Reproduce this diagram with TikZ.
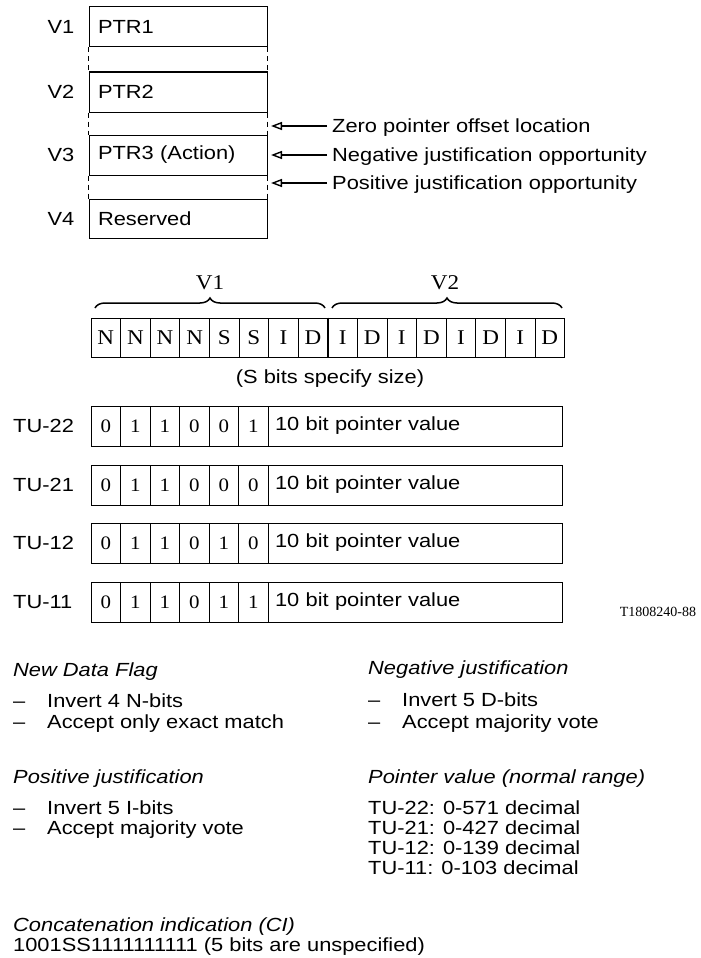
\documentclass[tikz,border=0pt]{standalone}
\usepackage{fontspec}
\setmainfont{Liberation Sans}[FakeStretch=1.15]
\newfontfamily\serfont{Liberation Serif}[FakeStretch=1.1]
\newfontfamily\tagfont{Liberation Serif}
\usetikzlibrary{arrows.meta,decorations.pathreplacing}
\tikzset{
  txt/.style={font=\fontsize{19}{21}\selectfont, inner sep=0pt, text height=13.5pt, text depth=0pt},
  ltxt/.style={txt, anchor=west},
  itxt/.style={ltxt, font=\fontsize{19}{21}\selectfont\itshape},
  ptrbox/.style={draw, line width=1pt, minimum width=178pt, minimum height=40pt,
    text width=160pt, align=left, inner xsep=9pt, inner ysep=0pt, font=\fontsize{19}{21}\selectfont},
  bitcell/.style={draw, line width=0.9pt, minimum width=29.6pt, minimum height=39pt,
    inner sep=0pt, font=\serfont\fontsize{21}{23}\selectfont},
  tubit/.style={draw, line width=0.9pt, minimum width=29.5pt, minimum height=40pt,
    inner sep=0pt, font=\serfont\fontsize{19}{21}\selectfont},
  valbox/.style={draw, line width=1pt, minimum width=294pt, minimum height=40pt,
    text width=280pt, align=left, inner xsep=7pt, inner ysep=0pt, font=\fontsize{19}{21}\selectfont},
  gap/.style={dashed, dash pattern=on 5pt off 4pt, line width=1pt},
  arr/.style={line width=1.1pt, -{Triangle[open,length=11pt,width=8pt,line width=1.4pt]}},
  bracedec/.style={line width=1.5pt, decorate, decoration={brace, amplitude=10pt}},
  serlab/.style={font=\serfont\fontsize{21}{23}\selectfont, inner sep=0pt}
}
\begin{document}
\begin{tikzpicture}[x=1pt,y=-1pt]
\useasboundingbox (0,0) rectangle (701,958);

% ---- top: pointer locations
\node[txt] (l1) at (61,27) {V1};
\node[txt] (l2) at (61,92) {V2};
\node[txt] (l3) at (61,155) {V3};
\node[txt] (l4) at (61,218.5) {V4};
\node[ptrbox] (p1) at (178,27) {PTR1};
\node[ptrbox] (p2) at (178,92) {PTR2};
\node[ptrbox] (p3) at (178,155) {PTR3 (Action)};
\node[ptrbox, minimum height=39pt] (p4) at (178,218.5) {Reserved};
\draw[gap] (p1.south west) -- (p2.north west);
\draw[gap] (p1.south east) -- (p2.north east);
\draw[gap] (p2.south west) -- (p3.north west);
\draw[gap] (p2.south east) -- (p3.north east);
\draw[gap] (p3.south west) -- (p4.north west);
\draw[gap] (p3.south east) -- (p4.north east);

\node[ltxt] (zero) at (332,126) {Zero pointer offset location};
\node[ltxt] (neg) at (332,155) {Negative justification opportunity};
\node[ltxt] (pos) at (332,183) {Positive justification opportunity};
\coordinate (zerotip) at (271,126);
\coordinate (negtip) at (271,155);
\coordinate (postip) at (271,183);
\draw[arr] ([xshift=-5pt]zero.west) -- (zerotip);
\draw[arr] ([xshift=-5pt]neg.west) -- (negtip);
\draw[arr] ([xshift=-5pt]pos.west) -- (postip);

% ---- bit row with braces
\coordinate (br1a) at (95,308);
\coordinate (br1b) at (325,308);
\coordinate (br2a) at (332,308);
\coordinate (br2b) at (562,308);
\draw[bracedec] (br1a) -- (br1b);
\draw[bracedec] (br2a) -- (br2b);
\node[serlab] (v1lab) at (210,283) {V1};
\node[serlab] (v2lab) at (445,283) {V2};

\foreach \l [count=\i] in {N,N,N,N,S,S,I,D,I,D,I,D,I,D,I,D}
  \node[bitcell] (b\i) at ({91+29.6*(\i-0.5)},337.5) {\l};
\draw[line width=1.8pt] (b8.north east) -- (b8.south east);
\node[txt] (sbits) at (330,377) {(S bits specify size)};

% ---- TU rows
\foreach \nm/\bits/\yy [count=\r] in {TU-22/{0,1,1,0,0,1}/426, TU-21/{0,1,1,0,0,0}/485,
    TU-12/{0,1,1,0,1,0}/543, TU-11/{0,1,1,0,1,1}/602} {
  \node[ltxt] (tul\r) at (13,\yy) {\nm};
  \foreach \bv [count=\c] in \bits
    \node[tubit] (tu\r b\c) at ({91+29.5*(\c-0.5)},\yy) {\bv};
  \node[valbox] (tuv\r) at (415,\yy) {10 bit pointer value};
}
\node[font=\tagfont\fontsize{14}{16}\selectfont, inner sep=0pt] (tag) at (658,612) {T1808240-88};

% ---- bottom text
\node[itxt] (ndf) at (13,670) {New Data Flag};
\node[ltxt] (ndf1) at (13,701) {\makebox[34pt][l]{--}Invert 4 N-bits};
\node[ltxt] (ndf2) at (13,722) {\makebox[34pt][l]{--}Accept only exact match};

\node[itxt] (nj) at (368,668) {Negative justification};
\node[ltxt] (nj1) at (368,700) {\makebox[34pt][l]{--}Invert 5 D-bits};
\node[ltxt] (nj2) at (368,722) {\makebox[34pt][l]{--}Accept majority vote};

\node[itxt] (pj) at (13,777) {Positive justification};
\node[ltxt] (pj1) at (13,808) {\makebox[34pt][l]{--}Invert 5 I-bits};
\node[ltxt] (pj2) at (13,828) {\makebox[34pt][l]{--}Accept majority vote};

\node[itxt] (pv) at (368,777) {Pointer value (normal range)};
\node[ltxt] (pv1) at (368,808) {TU-22: 0-571 decimal};
\node[ltxt] (pv2) at (368,828) {TU-21: 0-427 decimal};
\node[ltxt] (pv3) at (368,848) {TU-12: 0-139 decimal};
\node[ltxt] (pv4) at (368,868) {TU-11: 0-103 decimal};

\node[itxt] (ci) at (13,925) {Concatenation indication (CI)};
\node[ltxt] (ci1) at (13,945) {1001SS1111111111 (5 bits are unspecified)};
\end{tikzpicture}
\end{document}
